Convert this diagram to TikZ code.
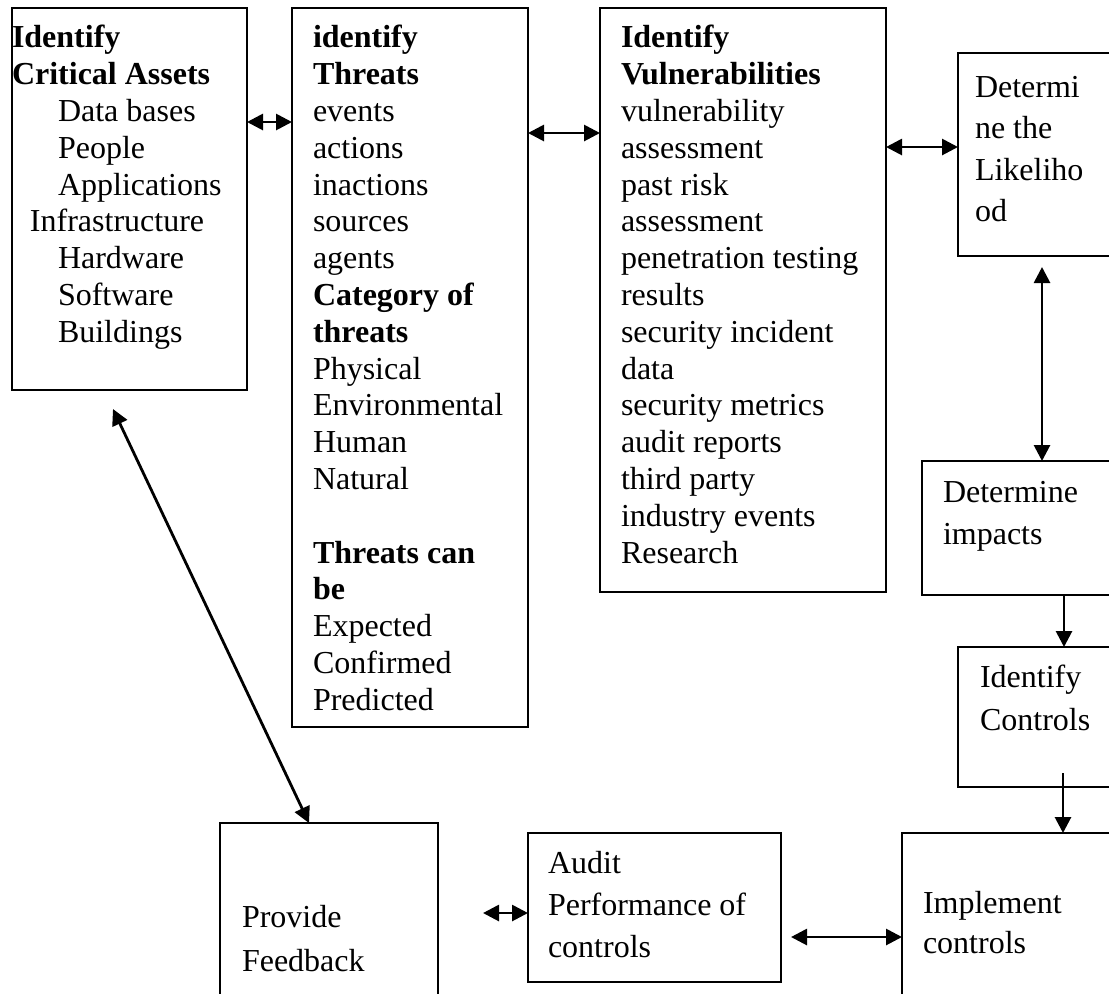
\documentclass[tikz,border=0pt]{standalone}
\usepackage{fontspec}
\setmainfont{Liberation Serif}
\usetikzlibrary{arrows.meta,calc,fit}

\tikzset{
  box/.style={draw, line width=1pt, inner sep=0pt, outer sep=0pt},
  txt/.style={anchor=north west, inner sep=0pt, outer sep=0pt, align=left,
              font=\fontsize{16}{18.4}\selectfont},
  tip/.style={Triangle[length=8pt,width=8pt]},
  dbl/.style={line width=1.4pt, {Triangle[length=8pt,width=8pt]}-{Triangle[length=8pt,width=8pt]}},
  one/.style={line width=1.4pt, -{Triangle[length=8pt,width=8pt]}},
}

\begin{document}
\begin{tikzpicture}[x=0.5pt,y=-0.5pt]
\useasboundingbox (0,0) rectangle (1109,993);
\clip (0,0) rectangle (1109,993);

% process boxes
\node[box, fit={(12,8) (247,390)}]    (b1) {};
\node[box, fit={(292,8) (528,727)}]   (b2) {};
\node[box, fit={(600,8) (886,592)}]   (b3) {};
\node[box, fit={(958,53) (1130,256)}] (b4) {};
\node[box, fit={(922,461) (1130,595)}] (b5) {};
\node[box, fit={(958,647) (1130,787)}] (b6) {};
\node[box, fit={(902,833) (1130,1010)}] (b7) {};
\node[box, fit={(528,833) (781,982)}] (b8) {};
\node[box, fit={(220,823) (438,1010)}] (b9) {};

% box texts
\node[txt] (t1) at (12,22.2) {\strut\textbf{Identify}\\
  \textbf{Critical Assets}\\
  \hspace*{23pt}Data bases\\
  \hspace*{23pt}People\\
  \hspace*{23pt}Applications\\
  \hspace*{9pt}Infrastructure\\
  \hspace*{23pt}Hardware\\
  \hspace*{23pt}Software\\
  \hspace*{23pt}Buildings};

\node[txt] (t2) at (313,22.2) {\strut\textbf{identify}\\
  \textbf{Threats}\\
  events\\
  actions\\
  inactions\\
  sources\\
  agents\\
  \textbf{Category of}\\
  \textbf{threats}\\
  Physical\\
  Environmental\\
  Human\\
  Natural\\[18.4pt]
  \textbf{Threats can}\\
  \textbf{be}\\
  Expected\\
  Confirmed\\
  Predicted};

\node[txt] (t3) at (621,22.2) {\strut\textbf{Identify}\\
  \textbf{Vulnerabilities}\\
  vulnerability\\
  assessment\\
  past risk\\
  assessment\\
  penetration testing\\
  results\\
  security incident\\
  data\\
  security metrics\\
  audit reports\\
  third party\\
  industry events\\
  Research};

\node[txt, font=\fontsize{16}{20.75}\selectfont] (t4) at (975,68) {\strut Determi\\ ne the\\ Likeliho\\ od};
\node[txt, font=\fontsize{16}{21}\selectfont] (t5) at (943,472.6) {\strut Determine\\ impacts};
\node[txt, font=\fontsize{16}{21.5}\selectfont] (t6) at (980,657) {\strut Identify\\ Controls};
\node[txt, font=\fontsize{16}{20}\selectfont] (t7) at (923,885) {\strut Implement\\ controls};
\node[txt, font=\fontsize{16}{21}\selectfont] (t8) at (548,843.6) {\strut Audit\\ Performance of\\ controls};
\node[txt, font=\fontsize{16}{22}\selectfont] (t9) at (242,897) {\strut Provide\\ Feedback};

% free connector ends
\coordinate (l4) at ($(b4.south west)+(84,11)$);
\coordinate (c6) at ($(b6.south west)+(105,-14)$);
\coordinate (r8) at ($(b8.north east)+(10,104)$);
\coordinate (r9) at ($(b9.north east)+(45,90)$);
\coordinate (s1) at ($(b1.south west)+(101,19)$);

% connectors
\draw[dbl] ($(b1.north east)+(0,114)$) -- ($(b2.north west)+(0,114)$);
\draw[dbl] ($(b2.north east)+(0,125)$) -- ($(b3.north west)+(0,125)$);
\draw[dbl] ($(b3.north east)+(0,139)$) -- ($(b4.north west)+(0,94)$);
\draw[dbl] (l4) -- ($(b5.north west)+(120,0)$);
\draw[one] ($(b5.south west)+(142,0)$) -- ($(b6.north west)+(106,0)$);
\draw[one] (c6) -- ($(b7.north west)+(161,0)$);
\draw[dbl] (r8) -- ($(b7.north west)+(0,104)$);
\draw[dbl] (r9) -- ($(b8.north west)+(0,80)$);
\draw[dbl] (s1) -- ($(b9.north west)+(89,0)$);
\end{tikzpicture}
\end{document}
